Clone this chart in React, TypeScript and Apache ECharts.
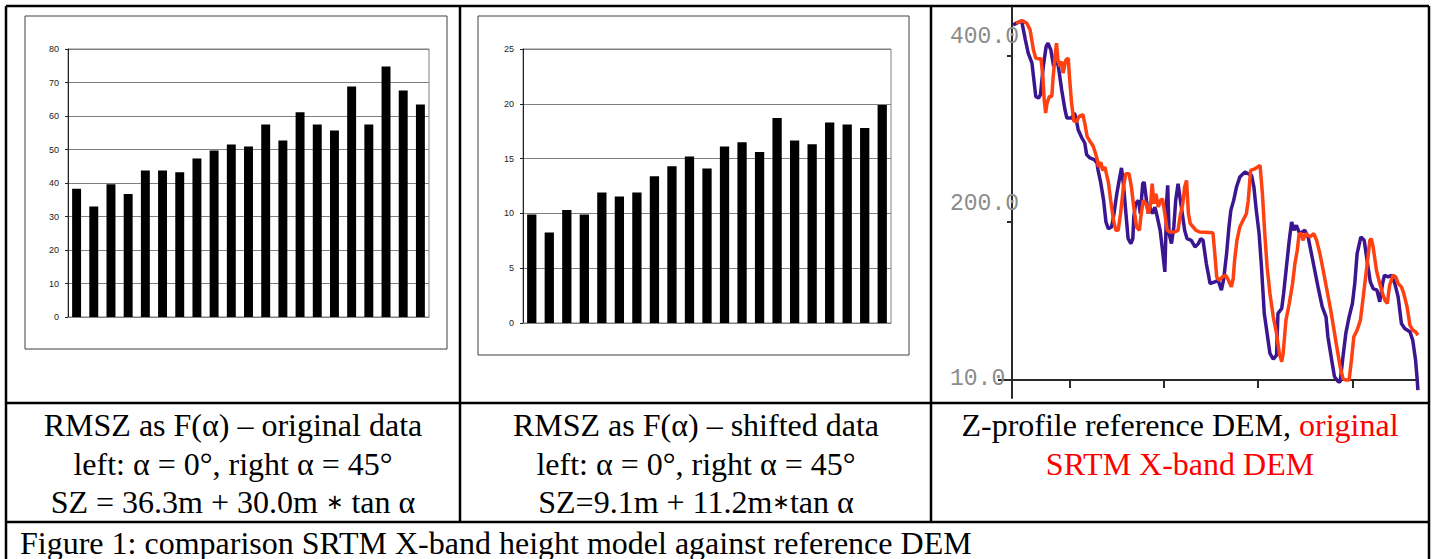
import { useEffect, useRef } from "react";
import * as echarts from "echarts";

// ---------- DATA ----------
const barCategories = ["1","2","3","4","5","6","7","8","9","10","11","12","13","14","15","16","17","18","19","20","21"];
const rmszOriginal = [38.3, 33.0, 39.6, 36.7, 43.7, 43.7, 43.2, 47.3, 49.7, 51.5, 50.9, 57.5, 52.7, 61.1, 57.5, 55.7, 68.8, 57.5, 74.8, 67.6, 63.4];
const rmszShifted = [9.9, 8.25, 10.3, 9.9, 11.9, 11.55, 11.9, 13.4, 14.3, 15.2, 14.1, 16.1, 16.5, 15.6, 18.7, 16.65, 16.3, 18.3, 18.1, 17.8, 19.9];

const referenceDem: [number, number][] = [
  [40,437],[49,442],[53,419],[56,403],[60,391],[62,371],[64,351],[67,349],[69,353],[72,387],[75,411],[77,415],[80,407],[83,387],[85.5,397],[88,387],[91.5,359],[95,335],[97,325],[102,325],[105,331],[107,323],[109,311],[113,301],[116,295],[118,281],[121.5,277],[126,275],[129,271],[130,263],[133,247],[136,226],[138.5,200],[141,192],[144.5,194],[147,210],[150,234],[152.5,250],[155,265],[157,246],[160,206],[162,180],[165,174],[167,180],[168,206],[170,222],[173,226],[175,210],[177.5,246],[179,248],[181.5,226],[183.5,210],[185,218],[188,210],[190.5,218],[193,206],[196,190],[198.5,166],[201,140],[203,226],[204,244],[205.5,186],[208,174],[210.5,194],[212.5,226],[215,246],[217.5,226],[220,206],[222,190],[224.5,180],[229,178],[233,170],[236.5,174],[239,180],[241.5,178],[245,150],[249,126],[254,128],[257.5,130],[261,118],[263.5,132],[266.5,162],[269,194],[271,214],[274,226],[277,242],[280.5,254],[286,260],[289.5,258],[293,256],[295.5,242],[298,214],[301,186],[303.5,146],[306.5,90],[309.5,66],[312.5,42],[316,35],[319.5,40],[321,90],[325,96],[327,114],[330,146],[333,178],[335.5,200],[338,190],[340.5,196],[344,186],[349.5,190],[353,182],[356.5,162],[360,142],[363.5,122],[368,98],[372,86],[374,62],[378,34],[381,14],[385,8],[387,8],[390,38],[393,66],[396.5,86],[400,102],[402.5,126],[405,162],[409,182],[412.5,178],[415.5,154],[419,128],[422,120],[426,118],[429,104],[432,126],[434,136],[438,134],[441.5,136],[445,126],[448.5,110],[452,78],[455.5,72],[461,68],[464,58],[467,34],[468.5,14],[469.5,-2]
];
const srtmXBand: [number, number][] = [
  [43,439],[50,442],[54.5,439],[58,431],[61.5,407],[64,397],[68,396],[69.5,397],[71.5,375],[73,347],[74.5,331],[76,343],[78.5,351],[81,351],[82.5,375],[84.5,399],[86,415],[87.5,395],[89.5,387],[91.5,393],[93,379],[96,395],[98.5,397],[99.5,379],[102,343],[104.5,321],[107.5,321],[110,327],[114,329],[116,319],[118.5,303],[121.5,297],[125,291],[127.5,282],[129.5,274],[130.5,266],[133,272],[135,262],[137.5,266],[139,258],[141,248],[143.5,226],[146.5,202],[149,190],[151.5,190],[154,210],[157,242],[159.5,258],[163,258],[165.5,242],[168,218],[171,194],[174,190],[175.5,206],[178,226],[181,222],[183.5,210],[186,222],[187.5,246],[189.5,222],[191.5,234],[194,218],[196.5,226],[198.5,228],[201,210],[203.5,190],[206.5,188],[211.5,188],[215,190],[217,206],[220,222],[222,242],[224,250],[226,210],[228,198],[231,194],[234,190],[238,188],[252,187],[254,162],[256,134],[258.5,130],[262,134],[265.5,136],[268.5,130],[271.5,122],[273.5,132],[275,154],[277.5,178],[280.5,194],[284,202],[287.5,210],[289.5,226],[292,262],[296.5,264],[302,268],[304.5,234],[307,186],[309.5,146],[312.5,114],[316,86],[319.5,66],[322.5,42],[325,32],[326.5,42],[329.5,82],[333,102],[336.5,126],[339,150],[341.5,166],[343.5,186],[346,186],[347.5,178],[350.5,186],[355,182],[359,186],[362,178],[365.5,162],[369,142],[373,118],[377,94],[380.5,70],[384,46],[387,26],[390,12],[393,10],[396.5,10],[399,34],[401.5,62],[405,70],[408.5,82],[411.5,110],[414,134],[416.5,158],[418.5,178],[420,180],[422,170],[425.5,142],[429,126],[432,114],[434.5,106],[437,102],[439.5,124],[443,136],[446,134],[448.5,126],[452,122],[454.5,114],[458,98],[461,76],[464,70],[467,68],[469.5,64]
];

const profileLabelValues = [10, 200, 400];
const profileTickValues = [200, 400];
const profileXTickValues = [100, 200, 300, 400];

const col1Lines = ["RMSZ as F(\u03b1) \u2013 original data", "left: \u03b1 = 0\u00b0, right \u03b1 = 45\u00b0", "SZ = 36.3m + 30.0m \u2217 tan \u03b1"];
const col2Lines = ["RMSZ as F(\u03b1) \u2013 shifted data", "left: \u03b1 = 0\u00b0, right \u03b1 = 45\u00b0", "SZ=9.1m + 11.2m\u2217tan \u03b1"];
const col3Black = "Z-profile reference DEM, ";
const col3Red = ["original", "SRTM X-band DEM"];
const figureCaption = "Figure 1: comparison SRTM X-band height model against reference DEM";

// ---------- STYLE ----------
const SERIF = '"Liberation Serif", "Times New Roman", serif';
const SANS = '"Liberation Sans", Arial, sans-serif';
const MONO = '"Liberation Mono", "Courier New", monospace';
const FS = 32;
const LINE_Y = [425, 463.5, 502];
const CAPTION_Y = 542.5;

function barYAxis(gridIndex: number, max: number, interval: number) {
  return {
    gridIndex, type: "value", min: 0, max, interval,
    axisLine: { show: true, onZero: false, lineStyle: { color: "#222", width: 1 } },
    axisTick: { show: true, length: 3, lineStyle: { color: "#222", width: 1 } },
    axisLabel: { show: true, fontSize: 9, color: "#222", fontFamily: SANS, margin: 9 },
    splitLine: { show: true, lineStyle: { color: "#808080", width: 1 } },
  };
}
function barXAxis(gridIndex: number) {
  return {
    gridIndex, type: "category", data: barCategories,
    axisLine: { show: true, lineStyle: { color: "#808080", width: 1 } },
    axisTick: { show: false }, axisLabel: { show: false }, splitLine: { show: false },
  };
}

const richBase = {
  t: { fontSize: FS, fontFamily: SERIF, fill: "#000" },
  s: { fontSize: 21, fontFamily: '"DejaVu Sans", sans-serif', fill: "#000" },
  r: { fontSize: FS, fontFamily: SERIF, fill: "#ff0000" },
};
// wrap a line as rich text, rendering the math asterisk smaller
function richLine(text: string) {
  return text
    .split("\u2217")
    .map((part) => (part ? `{t|${part}}` : ""))
    .join("{s|\u2217}");
}

export default function App() {
  const ref = useRef<HTMLDivElement>(null);
  useEffect(() => {
    if (!ref.current) return;
    const chart = echarts.init(ref.current, null, { renderer: "svg" });
    const border = { stroke: "#000", lineWidth: 2.5 };
    const lines: any[] = [
      [6, 6, 1429, 6], [6, 6, 6, 559], [1429, 6, 1429, 559],
      [6, 403, 1429, 403], [6, 522, 1429, 522],
      [460, 6, 460, 522], [931, 6, 931, 522],
    ].map(([x1, y1, x2, y2]) => ({ type: "line", shape: { x1, y1, x2, y2 }, style: border, silent: true }));

    const richText = (text: string, x: number, y: number, align = "center") => ({
      type: "text", x, y, silent: true,
      style: { text, align, verticalAlign: "middle", fontSize: FS, fontFamily: SERIF, fill: "#000", rich: richBase },
    });

    const graphic: any[] = [
      ...lines,
      { type: "rect", shape: { x: 25, y: 16, width: 422, height: 333 }, style: { fill: "none", stroke: "#404040", lineWidth: 1 }, silent: true },
      { type: "rect", shape: { x: 478, y: 16, width: 431, height: 339 }, style: { fill: "none", stroke: "#404040", lineWidth: 1 }, silent: true },
      { type: "line", shape: { x1: 998, y1: 380, x2: 1012, y2: 380 }, style: { stroke: "#2a2a2a", lineWidth: 2 }, silent: true },
      ...col1Lines.map((t, i) => richText(richLine(t), 233, LINE_Y[i])),
      ...col2Lines.map((t, i) => richText(richLine(t), 696, LINE_Y[i])),
      richText(`{t|${col3Black}}{r|${col3Red[0]}}`, 1180, LINE_Y[0]),
      richText(`{r|${col3Red[1]}}`, 1180, LINE_Y[1]),
      richText(`{t|${figureCaption}}`, 20, CAPTION_Y, "left"),
    ];

    chart.setOption({
      animation: false,
      backgroundColor: "#fff",
      grid: [
        { left: 68, top: 49, width: 361, height: 268, show: true, borderColor: "#808080", borderWidth: 1, containLabel: false, outerBoundsMode: "none" },
        { left: 523, top: 49, width: 368, height: 274, show: true, borderColor: "#808080", borderWidth: 1, containLabel: false, outerBoundsMode: "none" },
        { left: 1012, top: 7, width: 406, height: 391, show: false, containLabel: false, outerBoundsMode: "none" },
      ],
      xAxis: [
        barXAxis(0),
        barXAxis(1),
        {
          gridIndex: 2, type: "value", min: 38.8, max: 469.6, offset: -18,
          axisLine: { show: true, onZero: false, lineStyle: { color: "#2a2a2a", width: 2 } },
          axisTick: { show: true, customValues: profileXTickValues, length: 8, lineStyle: { color: "#2a2a2a", width: 2 } },
          axisLabel: { show: false }, splitLine: { show: false },
        },
      ],
      yAxis: [
        barYAxis(0, 80, 10),
        barYAxis(1, 25, 5),
        {
          gridIndex: 2, type: "value", min: -11.6, max: 458.5,
          axisLine: { show: true, onZero: false, lineStyle: { color: "#2a2a2a", width: 2 } },
          axisTick: { show: true, customValues: profileTickValues, length: 5, lineStyle: { color: "#2a2a2a", width: 2 } },
          axisLabel: {
            show: true, customValues: profileLabelValues, align: "left", margin: 62,
            formatter: (v: number) => (v === 10 ? `{low|${v.toFixed(1)}}` : `{up|${v.toFixed(1)}}`),
            rich: {
              up: { fontFamily: MONO, fontSize: 23, color: "#8c8c8c", padding: [0, 0, 37, 0] },
              low: { fontFamily: MONO, fontSize: 23, color: "#8c8c8c", padding: [0, 0, 2, 0] },
            },
          },
          splitLine: { show: false },
        },
      ],
      series: [
        { type: "bar", xAxisIndex: 0, yAxisIndex: 0, data: rmszOriginal, barWidth: "52%", itemStyle: { color: "#000" } },
        { type: "bar", xAxisIndex: 1, yAxisIndex: 1, data: rmszShifted, barWidth: "53%", itemStyle: { color: "#000" } },
        { type: "line", xAxisIndex: 2, yAxisIndex: 2, data: referenceDem, showSymbol: false, symbol: "none", lineStyle: { color: "#3a1690", width: 3.5 }, clip: true },
        { type: "line", xAxisIndex: 2, yAxisIndex: 2, data: srtmXBand, showSymbol: false, symbol: "none", lineStyle: { color: "#ff4010", width: 3.5 }, clip: true },
      ],
      graphic,
    });
    return () => chart.dispose();
  }, []);
  return <div ref={ref} style={{ position: "absolute", left: 0, top: 0, width: 1436, height: 559 }} />;
}
